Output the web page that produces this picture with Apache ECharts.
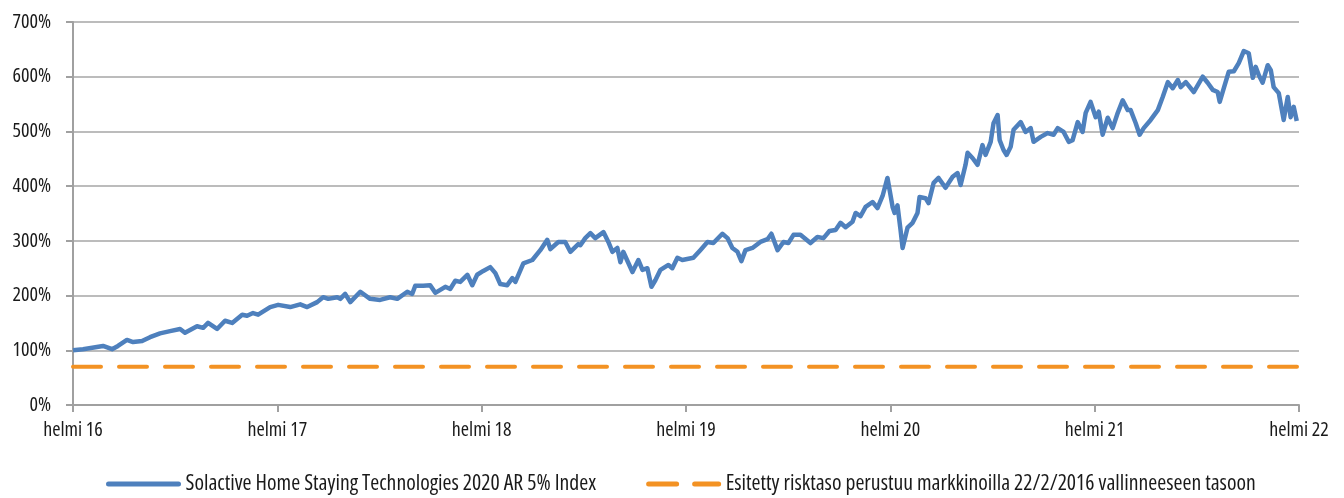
<!DOCTYPE html>
<html>
<head>
<meta charset="utf-8">
<script src="https://cdn.jsdelivr.net/npm/echarts@6/dist/echarts.min.js"></script>
<style>
html, body { margin: 0; padding: 0; background: #fff; }
#chart { width: 1344px; height: 498px; }
</style>
</head>
<body>
<div id="chart"></div>
<script>
// vuosia 22/2/2016 alkaen
var yearsSinceStart = [
	0.000, 0.049, 0.147, 0.191, 0.220, 0.264, 0.294, 0.338, 0.377, 0.426, 0.475, 0.524, 0.548, 0.607, 0.637, 0.661,
	0.705, 0.744, 0.779, 0.828, 0.852, 0.881, 0.906, 0.965, 1.004, 1.063, 1.112, 1.146, 1.195, 1.224, 1.249,
	1.293, 1.308, 1.332, 1.357, 1.406, 1.454, 1.503, 1.552, 1.587, 1.636, 1.660, 1.675, 1.714, 1.748, 1.773,
	1.822, 1.846, 1.871, 1.895, 1.930, 1.954, 1.978, 2.008, 2.042, 2.067, 2.091, 2.125, 2.150, 2.165, 2.204,
	2.248, 2.287, 2.321, 2.336, 2.375, 2.409, 2.434, 2.473,
	2.483, 2.507, 2.532, 2.556, 2.596, 2.620, 2.640, 2.664, 2.679, 2.693, 2.738, 2.767, 2.787, 2.811, 2.831,
	2.850, 2.875, 2.914, 2.933, 2.958, 2.982, 3.036, 3.070, 3.105, 3.134, 3.178, 3.203, 3.227, 3.252, 3.271,
	3.291, 3.325, 3.364, 3.399, 3.418, 3.448, 3.477, 3.501, 3.526, 3.560, 3.609, 3.643, 3.673, 3.702,
	3.732, 3.756, 3.781, 3.815, 3.830, 3.854, 3.879, 3.913, 3.937, 3.962, 3.986, 4.011, 4.021, 4.035, 4.050,
	4.060, 4.084, 4.109, 4.133, 4.143, 4.172, 4.187, 4.212, 4.236, 4.270, 4.305, 4.329, 4.344, 4.368, 4.378,
	4.403, 4.427, 4.451, 4.466, 4.491, 4.505, 4.525, 4.535, 4.554, 4.569, 4.589, 4.603, 4.638, 4.662, 4.687,
	4.701, 4.736, 4.770, 4.799, 4.819, 4.848, 4.873, 4.892,
	4.917, 4.941, 4.956, 4.980, 5.005, 5.020, 5.039, 5.064, 5.088, 5.113, 5.137, 5.162, 5.176, 5.201, 5.220,
	5.240, 5.274, 5.309, 5.333, 5.358, 5.382, 5.407, 5.421, 5.446, 5.485, 5.529, 5.553, 5.578, 5.602, 5.612,
	5.632, 5.656, 5.681, 5.705, 5.730, 5.754, 5.774, 5.788, 5.803, 5.822, 5.847, 5.862, 5.876, 5.901, 5.925,
	5.945, 5.959, 5.974, 5.989
];
var indexLevel = [
	100, 102, 108, 102, 108, 119, 115, 117, 124, 131, 135, 139, 132, 144, 141, 150,
	139, 154, 150, 165, 163, 168, 165, 179, 183, 179, 184, 179, 188, 197, 194,
	197, 194, 203, 188, 207, 194, 192, 197, 194, 207, 203, 218, 218, 219, 205,
	216, 212, 227, 225, 238, 219, 238, 245, 252, 241, 221, 219, 232, 225, 259,
	265, 283, 302, 285, 298, 298, 280, 294,
	292, 305, 314, 305, 316, 298, 280, 287, 261, 280, 243, 265, 247, 250, 216,
	228, 247, 256, 250, 269, 265, 269, 283, 298, 296, 313, 305, 287, 280, 263,
	283, 287, 298, 303, 313, 283, 298, 296, 311, 311, 296, 307, 305, 318,
	320, 333, 325, 335, 351, 345, 362, 371, 360, 382, 415, 362, 351, 365, 320,
	287, 324, 333, 351, 380, 378, 369, 406, 415, 397, 417, 424, 402, 439, 461,
	451, 439, 475, 457, 481, 515, 530, 484, 466, 457, 472, 503, 517, 499, 506,
	481, 490, 497, 494, 506, 499, 481, 484,
	517, 499, 534, 554, 526, 536, 494, 525, 506, 534, 557, 539, 539, 515, 494,
	506, 521, 539, 563, 590, 579, 594, 581, 590, 572, 600, 589, 576, 572, 554,
	579, 609, 610, 625, 647, 643, 598, 618, 603, 589, 621, 612, 581, 570, 521,
	563, 526, 545, 519
];
var riskLevel = 70;
var tickLabels = ['helmi 16', 'helmi 17', 'helmi 18', 'helmi 19', 'helmi 20', 'helmi 21', 'helmi 22'];
var seriesNames = ['Solactive Home Staying Technologies 2020 AR 5% Index', 'Esitetty risktaso perustuu markkinoilla 22/2/2016 vallinneeseen tasoon'];

// kapein saatavilla oleva fontti
function pickFont() {
	var ctx = document.createElement('canvas').getContext('2d');
	var sample = 'helmi 16 Solactive Home Staying';
	function width(font) { ctx.font = font; return ctx.measureText(sample).width; }
	var candidates = [
		{ family: '"Liberation Sans Narrow"', stretch: 'normal' },
		{ family: '"DejaVu Sans Condensed"', stretch: 'normal' },
		{ family: '"DejaVu Sans"', stretch: 'condensed' },
		{ family: '"Open Sans"', stretch: 'condensed' },
		{ family: '"Noto Sans"', stretch: 'condensed' },
		{ family: 'Roboto', stretch: 'condensed' },
		{ family: '"Liberation Sans"', stretch: 'normal' }
	];
	var best = candidates[candidates.length - 1], bestW = Infinity;
	var mono = width('20px monospace'), serif = width('20px serif');
	for (var i = 0; i < candidates.length; i++) {
		var c = candidates[i];
		var f1 = c.family + ', monospace', f2 = c.family + ', serif';
		var w1 = width(c.stretch + ' 20px ' + f1);
		var w2 = width(c.stretch + ' 20px ' + f2);
		if (w1 === mono && w2 === serif) continue;
		if (w1 < bestW) { bestW = w1; best = c; }
	}
	return best;
}
var font = pickFont();
function textStyle(size, extra) {
	var s = {
		fontFamily: font.family + ', sans-serif',
		fontStyle: font.stretch,
		fontSize: size,
		color: '#1a1a1a'
	};
	for (var k in extra) s[k] = extra[k];
	return s;
}

var indexData = [];
for (var i = 0; i < yearsSinceStart.length; i++) {
	indexData.push([yearsSinceStart[i], indexLevel[i]]);
}
var riskData = [[0, riskLevel], [tickLabels.length - 1, riskLevel]];

var chart = echarts.init(document.getElementById('chart'));
var option = {
	animation: false,
	backgroundColor: '#fff',
	grid: {
		left: 73,
		right: 45,
		top: 22,
		bottom: 93
	},
	legend: {
		left: 106,
		top: 473,
		padding: 0,
		itemWidth: 70,
		itemHeight: 14,
		itemGap: 50,
		itemStyle: { opacity: 0 },
		lineStyle: { width: 5, cap: 'round' },
		textStyle: textStyle(21.7, { padding: [0, 0, 0, 2] }),
		data: seriesNames
	},
	xAxis: {
		type: 'value',
		min: 0,
		max: tickLabels.length - 1,
		interval: 1,
		splitLine: { show: false },
		axisLine: { lineStyle: { color: '#a0a0a0', width: 2 } },
		axisTick: { show: true, length: 7, lineStyle: { color: '#a0a0a0', width: 2 } },
		axisLabel: textStyle(20, {
			margin: 15,
			formatter: function (v) { return tickLabels[Math.round(v)]; }
		})
	},
	yAxis: {
		type: 'value',
		min: 0,
		max: 700,
		interval: 100,
		axisLine: { show: true, lineStyle: { color: '#a0a0a0', width: 2 } },
		axisTick: { show: true, length: 7, lineStyle: { color: '#a0a0a0', width: 2 } },
		splitLine: { lineStyle: { color: '#a6a6a6', width: 1.5 } },
		axisLabel: textStyle(20, {
			margin: 22,
			formatter: '{value}%'
		})
	},
	series: [
		{
			name: seriesNames[0],
			type: 'line',
			symbol: 'none',
			data: indexData,
			lineStyle: { color: '#4e80bd', width: 4.5, join: 'round' },
			itemStyle: { color: '#4e80bd' },
			z: 3
		},
		{
			name: seriesNames[1],
			type: 'line',
			symbol: 'none',
			data: riskData,
			lineStyle: { color: '#f39223', width: 4, type: [28, 18], cap: 'round' },
			itemStyle: { color: '#f39223' },
			z: 2
		}
	]
};
chart.setOption(option);
</script>
</body>
</html>
